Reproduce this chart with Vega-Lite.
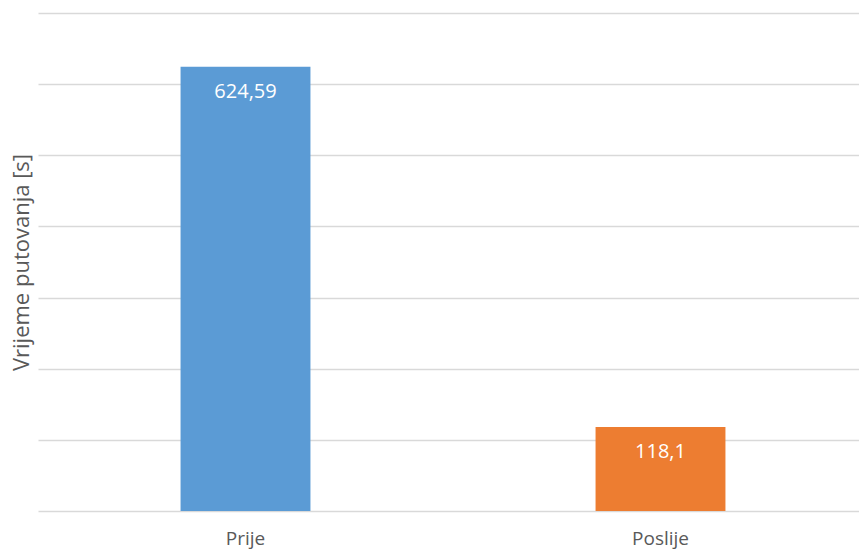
{
  "$schema": "https://vega.github.io/schema/vega-lite/v6.json",
  "autosize": "none",
  "width": 821,
  "height": 498,
  "padding": {"left": 38, "top": 13, "right": 0, "bottom": 41},
  "background": "white",
  "config": {
    "view": {"stroke": null},
    "font": "Open Sans",
    "locale": {"number": {"decimal": ",", "thousands": ".", "grouping": [3], "currency": ["", " €"]}}
  },
  "data": {"values": [
    {"faza": "Prije", "vrijeme": 624.59},
    {"faza": "Poslije", "vrijeme": 118.1}
  ]},
  "encoding": {
    "x": {
      "field": "faza", "type": "nominal", "sort": ["Prije", "Poslije"],
      "scale": {"range": [0, 830], "paddingInner": 0, "paddingOuter": 0},
      "axis": {"title": null, "labelAngle": 0, "domain": false, "ticks": false, "labelFontSize": 19, "labelColor": "#595959", "labelPadding": 18, "labelFont": "Open Sans"}
    },
    "y": {
      "field": "vrijeme", "type": "quantitative",
      "scale": {"domain": [0, 700], "nice": false},
      "axis": {"title": "Vrijeme putovanja [s]", "values": [0, 100, 200, 300, 400, 500, 600, 700], "labels": false, "ticks": false, "domain": false, "grid": true, "gridColor": "#d9d9d9", "gridWidth": 1.5, "titleFontSize": 22, "titleColor": "#595959", "titleFontWeight": "normal", "titlePadding": 5, "titleFont": "Open Sans"}
    }
  },
  "layer": [
    {
      "mark": {"type": "bar", "width": {"band": 0.313}},
      "encoding": {
        "color": {"field": "faza", "type": "nominal", "scale": {"domain": ["Prije", "Poslije"], "range": ["#5B9BD5", "#ED7D31"]}, "legend": null}
      }
    },
    {
      "mark": {"type": "text", "color": "white", "fontSize": 20, "baseline": "middle", "dy": 25},
      "encoding": {
        "text": {"field": "vrijeme", "type": "quantitative", "format": ".2~f"}
      }
    }
  ]
}
